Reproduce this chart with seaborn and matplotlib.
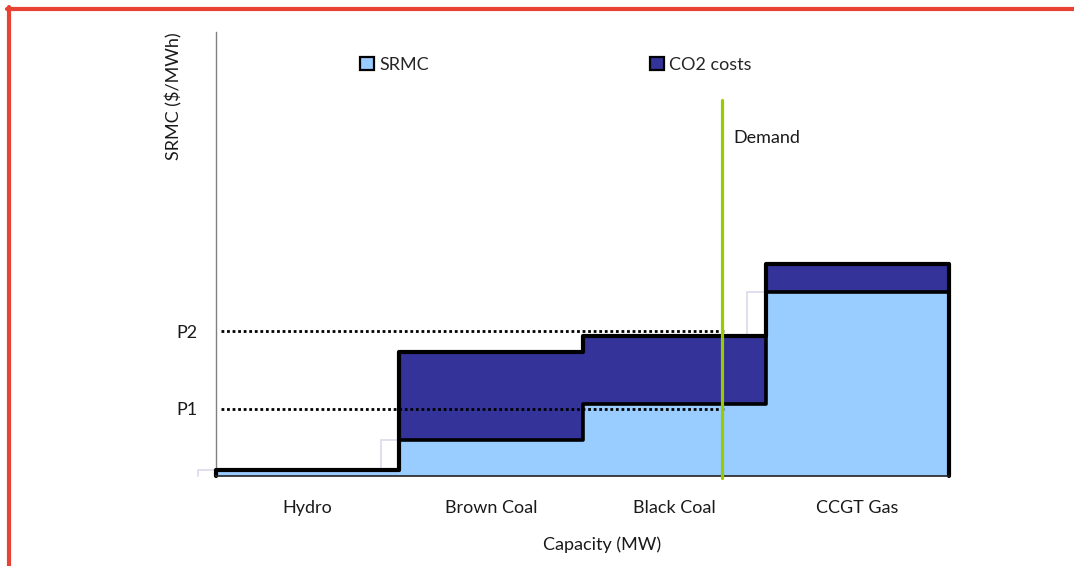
import numpy as np
import matplotlib
matplotlib.use("Agg")
import matplotlib.pyplot as plt
from matplotlib.lines import Line2D
from matplotlib.patches import Patch
import seaborn as sns

# chart values (arbitrary $/MWh units)
categories = ["Hydro", "Brown Coal", "Black Coal", "CCGT Gas"]
srmc = [1.5, 9.0, 18.0, 46.0]
co2_costs = [0.0, 22.0, 17.0, 7.0]
price_levels = [16.8, 36.2]
price_labels = ["P1", "P2"]
demand = 2.26

light_blue = "#99ccff"
dark_blue = "#333399"
demand_green = "#99cc00"
frame_red = "#e74233"

sns.set_style("white")
plt.rcParams["font.family"] = ["Lato", "DejaVu Sans"]

fig = plt.figure(figsize=(10.74, 5.66), dpi=100)
ax = fig.add_axes([216 / 1074, 90 / 566, 733 / 1074, 444 / 566])

totals = [s + c for s, c in zip(srmc, co2_costs)]

# fills: total first (CO2 on top), then SRMC over it
sns.barplot(x=categories, y=totals, color=dark_blue, saturation=1, width=1,
            errorbar=None, linewidth=0, ax=ax, zorder=2)
sns.barplot(x=categories, y=srmc, color=light_blue, saturation=1, width=1,
            errorbar=None, linewidth=0, ax=ax, zorder=3)

# step outlines
edges = np.arange(len(categories) + 1) - 0.5


def step_path(values):
    xs = np.repeat(edges, 2)
    ys = np.concatenate([[0], np.repeat(values, 2), [0]])
    return xs, ys


xs, ys = step_path(totals)
ax.plot(xs, ys, color="black", lw=3.0, solid_joinstyle="round", zorder=5, clip_on=False)
xs, ys = step_path(srmc)
ax.plot(xs[1:-1], ys[1:-1], color="black", lw=2.6, solid_joinstyle="round", zorder=4)

# faint shadow of the SRMC step
ax.plot(xs - 0.1, ys, color="#dcdcee", lw=1.3, zorder=1, clip_on=False)

# price levels, dotted up to demand
for p in price_levels:
    ax.plot([-0.47, demand + 0.02], [p, p], color="black", lw=2.0,
            linestyle=(0, (1, 1)), dash_capstyle="butt", zorder=6)

# demand line
ax.plot([demand, demand], [-0.5, 94], color=demand_green, lw=2.3, zorder=7, clip_on=False)
ax.text(demand + 0.065, 84.5, "Demand", fontsize=13, va="center", ha="left", color="#1a1a1a")

ax.set_xlim(-0.5, 3.5)
ax.set_ylim(0, 111)
ax.set_yticks(price_levels)
ax.set_yticklabels(price_labels)
ax.tick_params(axis="both", length=0, labelsize=13, colors="#1a1a1a")
ax.tick_params(axis="x", pad=17)
ax.tick_params(axis="y", pad=13)

ax.set_xlabel("Capacity (MW)", fontsize=13, color="#1a1a1a")
ax.xaxis.set_label_coords(0.527, -0.137)
ax.set_ylabel("SRMC ($/MWh)", fontsize=13, color="#1a1a1a")
ax.yaxis.set_label_coords(-0.046, 0.856)

for side in ["top", "right"]:
    ax.spines[side].set_visible(False)
ax.spines["left"].set_color("#808080")
ax.spines["left"].set_linewidth(1.0)
ax.spines["bottom"].set_color("#222222")
ax.spines["bottom"].set_linewidth(1.2)
ax.spines["bottom"].set_zorder(6)

handles = [Patch(facecolor=light_blue, edgecolor="black", linewidth=1.6, label="SRMC"),
           Patch(facecolor=dark_blue, edgecolor="black", linewidth=1.6, label="CO2 costs")]
fig.legend(handles=handles, ncol=2, loc="upper left", bbox_to_anchor=(360 / 1074, 1 - 57 / 566),
           frameon=False, fontsize=13, handlelength=0.75, handleheight=0.75,
           handletextpad=0.3, columnspacing=12.27, borderpad=0, borderaxespad=0)

# red frame on top and left
fig.add_artist(Line2D([7 / 1074, 1], [1 - 9 / 566] * 2, color=frame_red, lw=3, transform=fig.transFigure))
fig.add_artist(Line2D([9 / 1074] * 2, [0, 1 - 7 / 566], color=frame_red, lw=3, transform=fig.transFigure))

fig.savefig("out.png", dpi=100)
